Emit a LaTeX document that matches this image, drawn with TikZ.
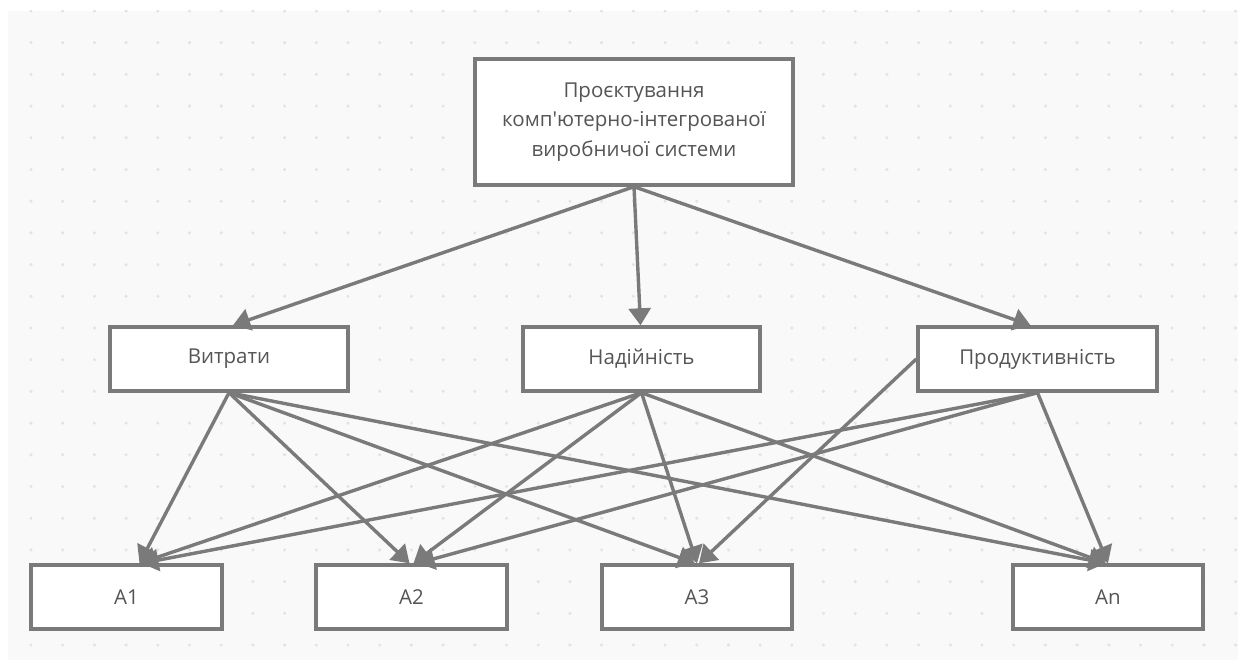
\documentclass[tikz,border=0pt]{standalone}
\usepackage{fontspec}
\newfontfamily\osans{Open Sans}
\usetikzlibrary{arrows.meta}
\definecolor{bgc}{HTML}{F9F9FA}
\definecolor{dotc}{HTML}{E2E2E8}
\definecolor{linec}{HTML}{7A7A7A}
\definecolor{textc}{HTML}{555555}
\begin{document}
\begin{tikzpicture}[x=1pt,y=-1pt,
  box/.style={draw=linec, line width=3.4pt, fill=white, inner sep=0pt, align=center,
    text=textc, font=\osans\fontsize{20.5}{29.5}\selectfont},
  conn/.style={draw=linec, line width=3.4pt, -{Triangle[length=17pt,width=22pt]}}]
\useasboundingbox (0,0) rectangle (1244,668);
\fill[bgc] (8,11) rectangle (1238,660);
\begin{scope}
\clip (8,11) rectangle (1238,660);
\foreach \i in {0,...,38}{
  \foreach \j in {0,...,20}{
    \fill[dotc] ({31+31.7*\i},{11+31.7*\j}) circle (1.7pt);
  }
}
\end{scope}
\node[box, minimum width=318pt, minimum height=126pt] (top) at (634,122)
  {Проєктування\\комп'ютерно-інтегрованої\\виробничої системи};
\node[box, minimum width=238pt, minimum height=64pt] (vit) at (229,359) {Витрати};
\node[box, minimum width=237pt, minimum height=64pt] (nad) at (641.5,359) {Надійність};
\node[box, minimum width=239pt, minimum height=64pt] (prod) at (1037.5,359) {Продуктивність};
\node[box, minimum width=191pt, minimum height=64pt] (a1) at (126.5,597) {A1};
\node[box, minimum width=191pt, minimum height=64pt] (a2) at (411.5,597) {A2};
\node[box, minimum width=190pt, minimum height=64pt] (a3) at (697,597) {A3};
\node[box, minimum width=190pt, minimum height=64pt] (an) at (1108,597) {An};
% top level
\draw[conn] (top.south) -- ([xshift=4pt]vit.north);
\draw[conn] (top.south) -- ([xshift=-1pt]nad.north);
\draw[conn] (top.south) -- ([xshift=-7pt]prod.north);
% Витрати
\draw[conn] (vit.south) -- ([xshift=13pt]a1.north);
\draw[conn] (vit.south) -- ([xshift=-2pt]a2.north);
\draw[conn] (vit.south) -- ([xshift=-2pt]a3.north);
\draw[conn] (vit.south) -- ([xshift=-2pt]an.north);
% Надійність
\draw[conn] (nad.south) -- ([xshift=13pt]a1.north);
\draw[conn] (nad.south) -- ([xshift=2pt]a2.north);
\draw[conn] (nad.south) -- (a3.north);
\draw[conn] (nad.south) -- ([xshift=-2pt]an.north);
% Продуктивність
\draw[conn] (prod.south) -- ([xshift=15pt]a1.north);
\draw[conn] (prod.south) -- ([xshift=6pt]a2.north);
\draw[conn] (prod.west) -- ([xshift=2pt]a3.north);
\draw[conn] (prod.south) -- (an.north);
\end{tikzpicture}
\end{document}
